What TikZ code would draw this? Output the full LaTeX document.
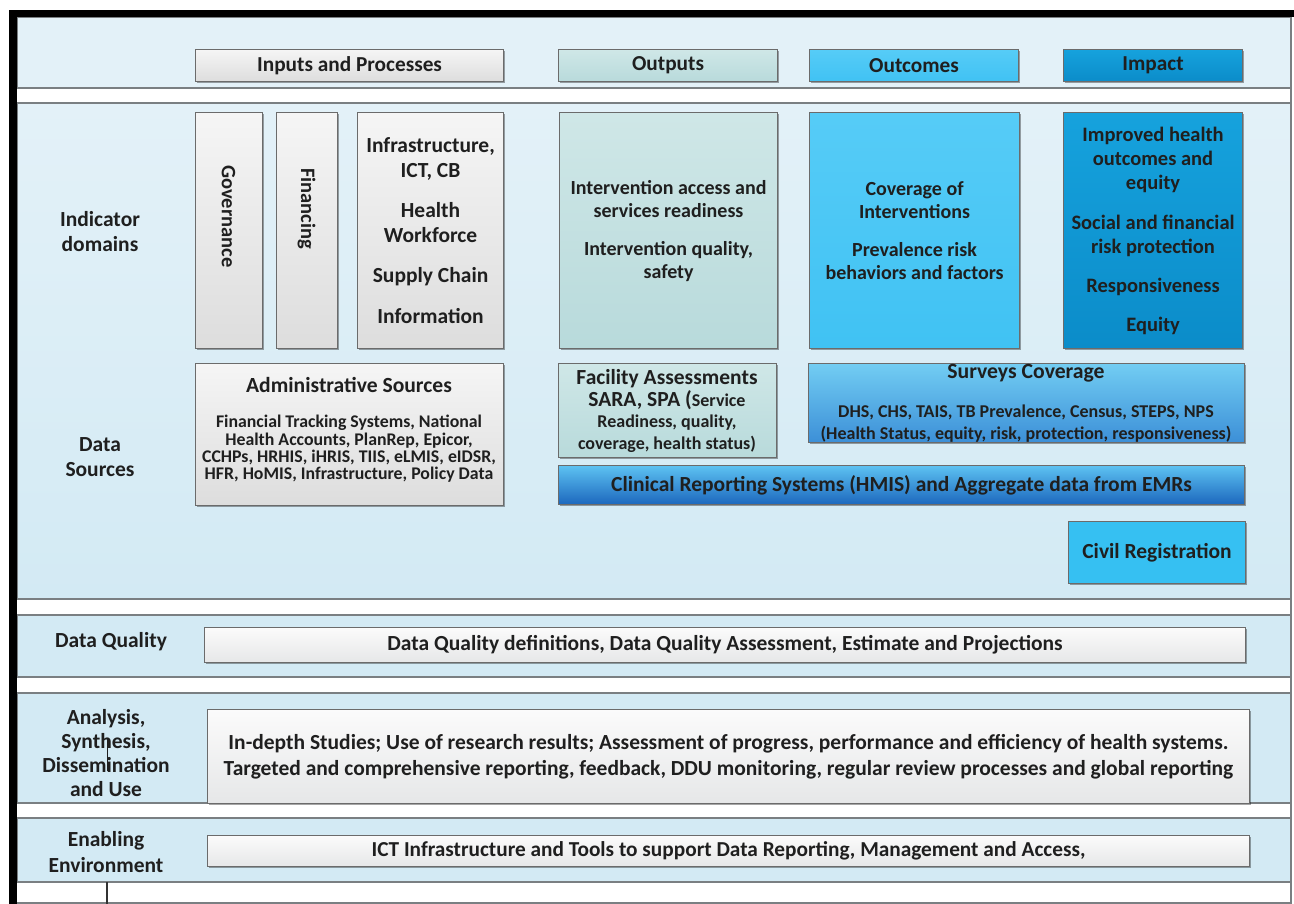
\documentclass[tikz,border=0pt]{standalone}
\usepackage{fontspec}
\setmainfont{Carlito}
\usetikzlibrary{shadows}
\definecolor{txt}{HTML}{1F1F1F}
\definecolor{boxline}{HTML}{6B6B6B}
\definecolor{bandline}{HTML}{7A7F82}
\definecolor{bandA}{HTML}{E3F1F8}
\definecolor{bandBt}{HTML}{E3F1F8}
\definecolor{bandBb}{HTML}{D3EAF4}
\definecolor{bandC}{HTML}{D3EAF4}
\definecolor{grayT}{HTML}{F5F5F5}
\definecolor{grayB}{HTML}{DDDDDD}
\definecolor{outT}{HTML}{CFE7E7}
\definecolor{outB}{HTML}{B8DADB}
\definecolor{ocT}{HTML}{56CCF7}
\definecolor{ocB}{HTML}{40C2F3}
\definecolor{imT}{HTML}{16A2DD}
\definecolor{imB}{HTML}{0B8CC9}
\definecolor{svT}{HTML}{72CDF3}
\definecolor{svB}{HTML}{3C8FD7}
\definecolor{clT}{HTML}{5DC2F2}
\definecolor{clB}{HTML}{1C67BD}
\definecolor{civ}{HTML}{36C0F2}
\definecolor{wT}{HTML}{FBFBFB}
\definecolor{wB}{HTML}{E6E7E8}
\newcommand{\mybox}[7]{\node[#2, minimum width={#5pt-#3pt}, minimum height={#6pt-#4pt}] (#1) at (#3,#4) {#7};}
\newcommand{\fz}[2]{\fontsize{#1}{#2}\selectfont}
\begin{document}
\begin{tikzpicture}[x=1pt,y=-1pt,
  box/.style={draw=boxline, line width=1.1pt, anchor=north west, align=center, inner sep=2pt,
    text=txt, font=\fz{21.3}{24}\bfseries,
    drop shadow={shadow xshift=1.2pt, shadow yshift=-1.2pt, opacity=0.35, fill=black}},
  gbox/.style={box, top color=grayT, bottom color=grayB},
  obox/.style={box, top color=outT, bottom color=outB},
  cbox/.style={box, top color=ocT, bottom color=ocB},
  ibox/.style={box, top color=imT, bottom color=imB},
  wbox/.style={box, top color=wT, bottom color=wB},
  lbl/.style={align=center, text=txt, inner sep=0pt, font=\fz{21.5}{25}\bfseries},
  txtnode/.style={align=center, text=txt, inner sep=0pt},
  bandl/.style={draw=bandline, line width=1.1pt}
]
\useasboundingbox (0,0) rectangle (1294,904);
\fill[white] (0,0) rectangle (1294,904);
% bands
\draw[bandl, fill=bandA] (17,17) rectangle (1291,88);
\draw[bandl, top color=bandBt, bottom color=bandBb] (17,103) rectangle (1291,599);
\draw[bandl, fill=bandC] (17,615) rectangle (1291,677);
\draw[bandl, fill=bandC] (17,693) rectangle (1291,803);
\draw[bandl, fill=bandC] (17,818) rectangle (1291,882);
\draw[bandl] (1291,17) -- (1291,903) -- (17,903);
\draw[line width=1.1pt, black!80] (107,882) -- (107,904);
% black frame
\fill[black] (9,10) rectangle (1294,17);
\fill[black] (9,10) rectangle (17,904);

% headers
\mybox{hin}{gbox}{195}{49}{503}{81}{Inputs and Processes}
\mybox{hout}{obox}{558}{49}{777}{81}{Outputs}
\mybox{hoc}{cbox}{809}{49}{1018}{81}{Outcomes}
\mybox{him}{ibox}{1063}{49}{1242}{81}{Impact}

% indicator domains
\mybox{gov}{gbox}{195}{112}{262}{348}{}
\mybox{fin}{gbox}{276}{112}{337}{348}{}
\node[txtnode, rotate=-90, anchor=west, font=\fz{20.5}{23}\bfseries] (govt) at (228.5,165) {Governance};
\node[txtnode, rotate=-90, anchor=west, font=\fz{20.5}{23}\bfseries] (fint) at (306.5,168) {Financing};
\mybox{infra}{gbox, font=\fz{21.5}{24.5}\bfseries}{357}{112}{503}{348}{Infrastructure,\\ICT, CB\\[16pt]Health\\Workforce\\[16pt]Supply Chain\\[16pt]Information}
\mybox{outb}{obox, font=\fz{20}{23}\bfseries}{559}{112}{777}{348}{Intervention access and\\services readiness\\[15pt]Intervention quality,\\safety}
\mybox{ocb}{cbox, font=\fz{20}{23}\bfseries}{809}{112}{1019}{348}{Coverage of\\Interventions\\[15pt]Prevalence risk\\behaviors and factors}
\mybox{imb}{ibox, font=\fz{20.5}{24}\bfseries}{1063}{112}{1242}{348}{Improved health\\outcomes and\\equity\\[16pt]Social and financial\\risk protection\\[15pt]Responsiveness\\[15pt]Equity}

% data sources
\mybox{adm}{gbox}{195}{363}{503}{505}{}
\node[txtnode, font=\fz{21.6}{24}\bfseries] (admt) at (349,385) {Administrative Sources};
\node[txtnode, font=\fz{17.8}{17.3}\bfseries] (admd) at (349,449) {Financial Tracking Systems, National\\Health Accounts, PlanRep, Epicor,\\CCHPs, HRHIS, iHRIS, TIIS, eLMIS, eIDSR,\\HFR, HoMIS, Infrastructure, Policy Data};
\mybox{fac}{obox}{558}{363}{776}{457}{}
\node[txtnode, font=\fz{18}{21.5}\bfseries] (fact) at (667,411) {{\fz{21.5}{21.5}Facility Assessments}\\{\fz{21.5}{21.5}SARA, SPA (}Service\\Readiness, quality,\\coverage, health status)};
\mybox{sv}{box, top color=svT, bottom color=svB}{808}{363}{1244}{442}{}
\node[txtnode, font=\fz{21.7}{24}\bfseries] (svt) at (1026,373) {Surveys Coverage};
\node[txtnode, font=\fz{18}{22}\bfseries] (svd) at (1026,424) {DHS, CHS, TAIS, TB Prevalence, Census, STEPS, NPS\\(Health Status, equity, risk, protection, responsiveness)};
\mybox{clin}{box, top color=clT, bottom color=clB, font=\fz{21.5}{24}\bfseries}{558}{465}{1244}{504}{Clinical Reporting Systems (HMIS) and Aggregate data from EMRs}
\mybox{civ}{box, fill=civ, font=\fz{21.5}{24}\bfseries}{1068}{521}{1245}{583}{Civil Registration}

% lower rows
\mybox{dq}{wbox, font=\fz{21.5}{24}\bfseries}{204}{627}{1245}{662}{Data Quality definitions, Data Quality Assessment, Estimate and Projections}
\mybox{an}{wbox, font=\fz{21.5}{26}\bfseries}{207}{709}{1249}{803}{In-depth Studies; Use of research results; Assessment of progress, performance and efficiency of health systems.\\Targeted and comprehensive reporting, feedback, DDU monitoring, regular review processes and global reporting}
\mybox{en}{wbox, font=\fz{21.3}{24}\bfseries}{207}{835}{1249}{866}{ICT Infrastructure and Tools to support Data Reporting, Management and Access,}

% left labels
\node[lbl] (lind) at (100,232) {Indicator\\domains};
\node[lbl] (lds) at (100,457) {Data\\Sources};
\node[lbl] (ldq) at (111,642) {Data Quality};
\node[lbl, font=\fz{21.5}{24.3}\bfseries] (lan) at (106,753) {Analysis,\\Synthesis,\\Dissemination\\and Use};
\node[lbl, font=\fz{21.5}{26}\bfseries] (len) at (106,852) {Enabling\\Environment};
\draw[line width=0.9pt, txt] (107,738) -- (107,771);
\end{tikzpicture}
\end{document}
